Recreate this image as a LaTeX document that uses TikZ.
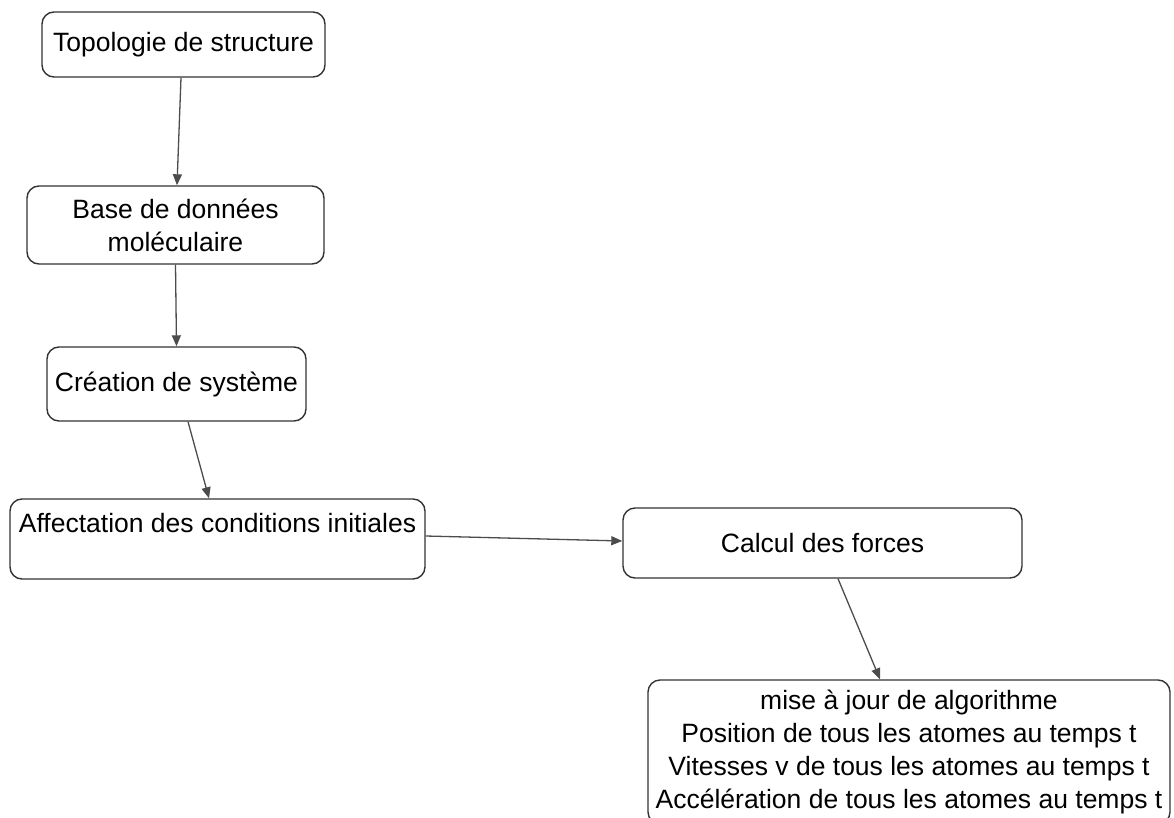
\documentclass[tikz,border=0pt]{standalone}
\usepackage{fontspec}
\setmainfont{Liberation Sans}
\usetikzlibrary{arrows,arrows.meta}

\tikzset{
  etape/.style={draw=black!80, line width=1.4pt, rounded corners=12pt, align=center, inner sep=0pt, font=\fontsize{26.5}{33}\selectfont},
  fleche/.style={draw=black!70, line width=1.3pt, -{Triangle[length=11pt,width=9pt]}},
}

\begin{document}
\begin{tikzpicture}[x=1pt,y=1pt,yscale=-1,xscale=1]
\useasboundingbox (0,0) rectangle (1174,818);

% Boites
\node [etape, minimum width=283pt, minimum height=65pt] (topo) at (183.5,44.5) {Topologie de structure};
\node [etape, minimum width=297pt, minimum height=78pt] (base) at (175.5,225) {Base de données\\moléculaire};
\node [etape, minimum width=259pt, minimum height=74pt] (crea) at (176.5,384) {Création de système};
\node [etape, minimum width=415pt, minimum height=80pt] (aff) at (217.5,539) {Affectation des conditions initiales\\ ~};
\node [etape, minimum width=399pt, minimum height=70pt] (calc) at (822.5,543) {Calcul des forces};
\node [etape, minimum width=522pt, minimum height=144pt] (maj) at (909,752) {mise à jour de algorithme\\Position de tous les atomes au temps t\\Vitesses v de tous les atomes au temps t\\Accélération de tous les atomes au temps t};

% Fleches
\draw [fleche] ([xshift=-2.5pt]topo.south) -- ([xshift=1.5pt]base.north);
\draw [fleche] (base.south) -- (crea.north);
\draw [fleche] ([xshift=11.5pt]crea.south) -- ([xshift=-8.5pt]aff.north);
\draw [fleche] ([yshift=-3pt]aff.east) -- ([yshift=-2pt]calc.west);
\draw [fleche] ([xshift=15.5pt]calc.south) -- ([xshift=-29pt]maj.north);
\end{tikzpicture}
\end{document}
